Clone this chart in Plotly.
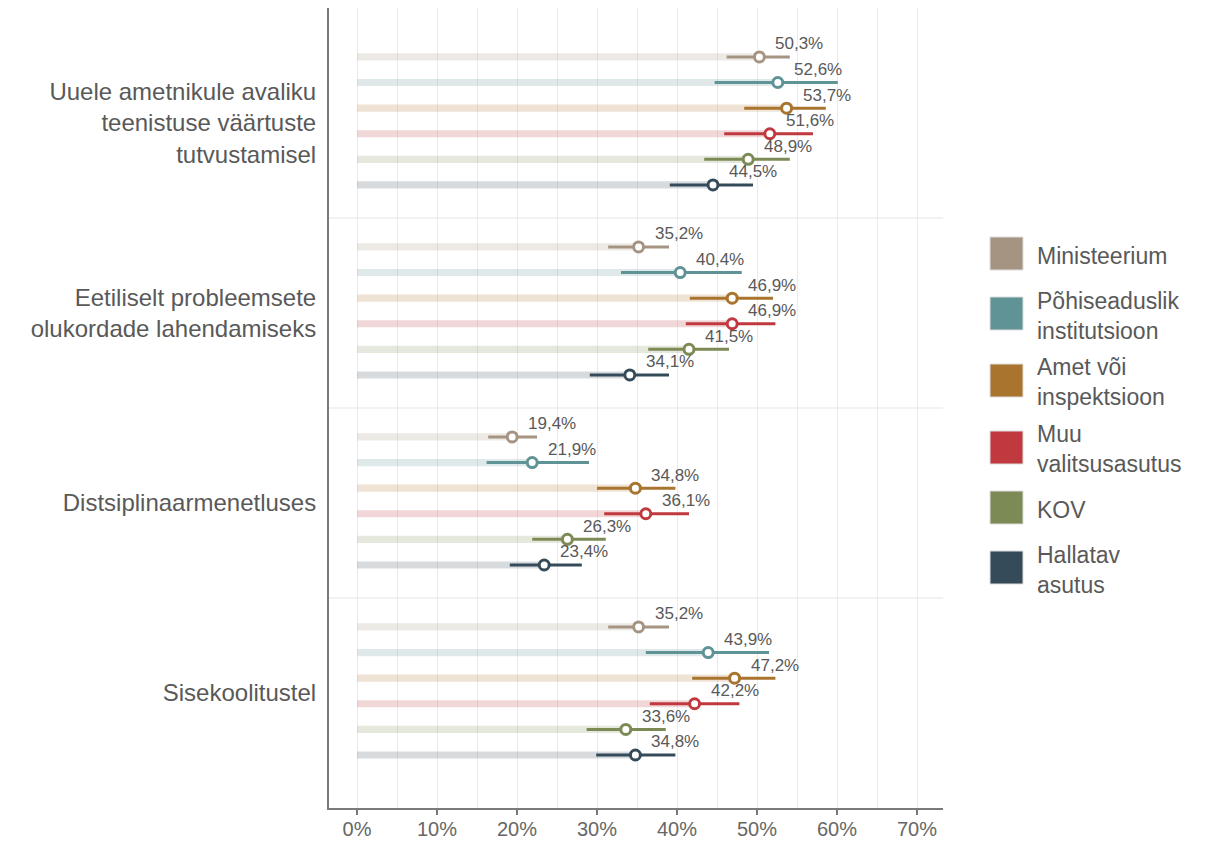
import plotly.graph_objects as go

categories = ['Uuele ametnikule avaliku<br>teenistuse väärtuste<br>tutvustamisel',
              'Eetiliselt probleemsete<br>olukordade lahendamiseks',
              'Distsiplinaarmenetluses',
              'Sisekoolitustel']
series = ['Ministeerium', 'Põhiseaduslik<br>institutsioon', 'Amet või<br>inspektsioon',
          'Muu<br>valitsusasutus', 'KOV', 'Hallatav<br>asutus']
colors = ['#a69483', '#5f9396', '#a8742e', '#c0393f', '#7c8b55', '#364b59']

# one row per series, one column per category
values = [[50.3, 35.2, 19.4, 35.2],
          [52.6, 40.4, 21.9, 43.9],
          [53.7, 46.9, 34.8, 47.2],
          [51.6, 46.9, 36.1, 42.2],
          [48.9, 41.5, 26.3, 33.6],
          [44.5, 34.1, 23.4, 34.8]]
ci_low = [[46.2, 31.4, 16.4, 31.4],
          [44.7, 33.0, 16.2, 36.1],
          [48.4, 41.6, 30.0, 41.9],
          [45.9, 41.1, 30.9, 36.6],
          [43.4, 36.4, 21.9, 28.7],
          [39.1, 29.1, 19.1, 29.9]]
ci_high = [[54.1, 39.0, 22.5, 39.0],
           [60.1, 48.1, 29.0, 51.5],
           [58.6, 52.0, 39.8, 52.3],
           [57.0, 52.3, 41.5, 47.8],
           [54.1, 46.5, 31.1, 38.6],
           [49.5, 39.0, 28.1, 39.8]]

FONT = 'Liberation Sans, Arial, sans-serif'
K = 7.42   # category height in row units
PAD = 0.78


def faint(hex_color, a=0.2):
    h = hex_color.lstrip('#')
    r, g, b = int(h[0:2], 16), int(h[2:4], 16), int(h[4:6], 16)
    return f'rgba({r},{g},{b},{a})'


fig = go.Figure()
annotations = []
for j, name in enumerate(series):
    ys = [i * K + (j - 2.5) - 0.08 for i in range(len(categories))]
    v = values[j]
    fig.add_trace(go.Bar(x=v, y=ys, orientation='h', width=0.28,
                         marker=dict(color=faint(colors[j]), line=dict(width=0)),
                         showlegend=False, hoverinfo='skip'))
    fig.add_trace(go.Scatter(
        x=v, y=ys, mode='markers', showlegend=False,
        error_x=dict(type='data', symmetric=False,
                     array=[h - x for h, x in zip(ci_high[j], v)],
                     arrayminus=[x - l for x, l in zip(v, ci_low[j])],
                     color=colors[j], thickness=3, width=0),
        marker=dict(symbol='circle', size=10, color='white',
                    line=dict(color=colors[j], width=3)),
        name=name.replace('<br>', ' ')))
    for x, y in zip(v, ys):
        annotations.append(dict(x=x, y=y, xref='x', yref='y',
                                text=f'{x:.1f}'.replace('.', ',') + '%',
                                showarrow=False, xanchor='left', yanchor='middle',
                                xshift=14, yshift=13,
                                font=dict(family=FONT, size=17, color='#595959')))

# manual legend with large swatches (positions in page pixels -> paper)
L, T, W, H = 329, 8, 614, 800
cy = 253.5
prev_lines = None
for j, name in enumerate(series):
    lines = name.count('<br>') + 1
    if prev_lines is not None:
        cy += 53 + 7 * ((prev_lines - 1) + (lines - 1))
    prev_lines = lines
    fig.add_shape(type='rect', xref='paper', yref='paper',
                  x0=(990 - L) / W, x1=(1023 - L) / W,
                  y0=(T + H - (cy + 16.5)) / H, y1=(T + H - (cy - 16.5)) / H,
                  fillcolor=colors[j], line=dict(color='#dddddd', width=1))
    annotations.append(dict(x=(1035 - L) / W, y=(T + H - cy) / H, xref='paper', yref='paper',
                            text=name, showarrow=False, xanchor='left', yanchor='middle',
                            align='left', yshift=-2,
                            font=dict(family=FONT, size=23, color='#595959')))

# category separators
for i in range(len(categories) - 1):
    fig.add_shape(type='line', xref='paper', yref='y', x0=0, x1=1,
                  y0=i * K + K / 2, y1=i * K + K / 2,
                  line=dict(color='#e6e6e6', width=1.2), layer='below')

fig.update_layout(
    width=1214, height=841,
    margin=dict(l=329, r=271, t=8, b=33),
    plot_bgcolor='white', paper_bgcolor='white',
    barmode='overlay', showlegend=False,
    font=dict(family=FONT, color='#595959'),
    annotations=annotations,
    xaxis=dict(range=[-3.5, 73.25], dtick=10, tick0=0, ticksuffix='%', automargin=False,
               showgrid=True, gridcolor='#ebebeb', gridwidth=1,
               minor=dict(dtick=5, showgrid=True, gridcolor='#ebebeb', gridwidth=1),
               zeroline=False, showline=True, linecolor='#7a7a7a', linewidth=2,
               ticks='outside', ticklen=5, tickcolor='#7a7a7a', tickwidth=2,
               ticklabelstandoff=-3,
               tickfont=dict(family=FONT, size=20, color='#666666')),
    yaxis=dict(range=[3 * K + K / 2 + PAD, -K / 2 - PAD], automargin=False,
               tickvals=[i * K for i in range(len(categories))], ticktext=categories,
               showgrid=False, zeroline=False, showline=True, linecolor='#7a7a7a',
               linewidth=2, ticks='', ticklabelstandoff=6,
               tickfont=dict(family=FONT, size=24, color='#595959')),
)

# page has a default 8px body margin; drop it so the figure fills the window
fig.write_html('out.html', config={'displayModeBar': False},
               post_script="document.body.style.margin='0';")
